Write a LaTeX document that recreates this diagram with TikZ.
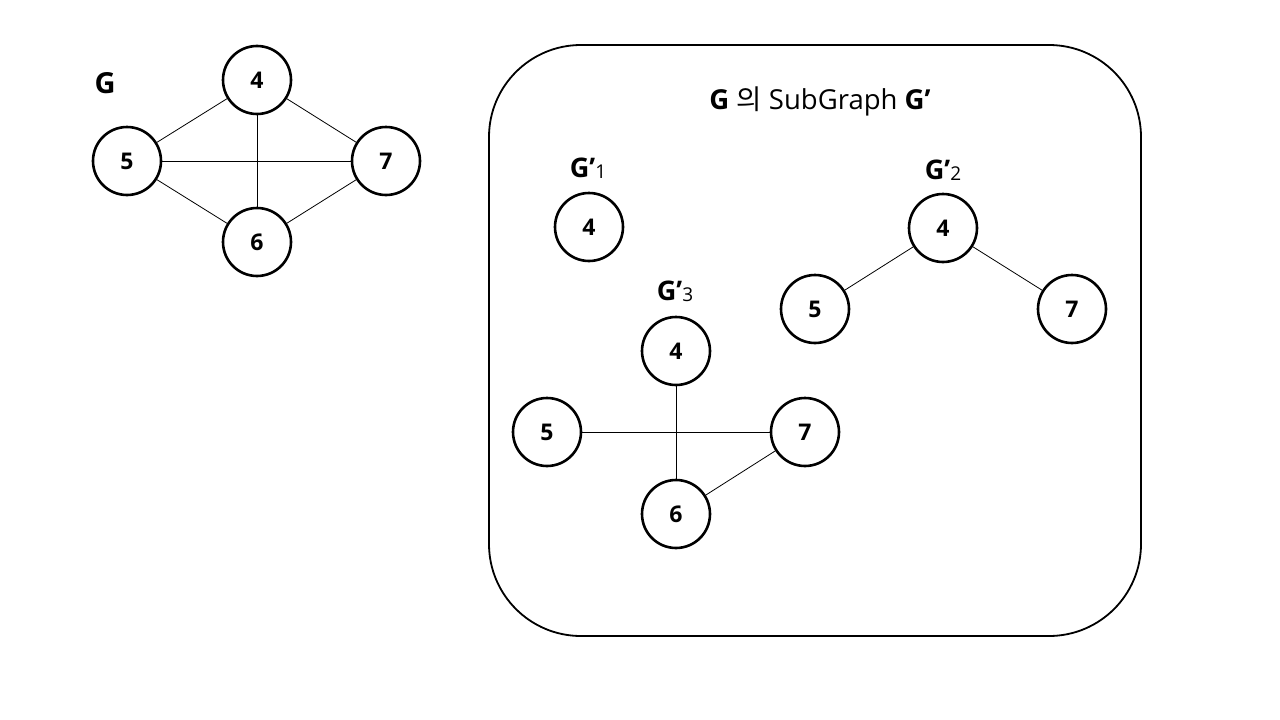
\documentclass[tikz,border=0pt]{standalone}
\usepackage{fontspec}
\setmainfont{Open Sans}
\newfontfamily\hangul{Noto Sans CJK KR}
\begin{document}
\begin{tikzpicture}[x=1pt,y=-1pt,
  vert/.style={circle,draw,line width=2.6pt,minimum size=68pt,inner sep=0pt,font=\fontsize{23}{26}\selectfont\bfseries},
  edge/.style={line width=0.8pt},
  glabel/.style={font=\fontsize{29}{32}\selectfont\bfseries},
  sublabel/.style={font=\fontsize{27}{30}\selectfont\bfseries}]
\useasboundingbox (0,0) rectangle (1280,720);
\fill[white] (0,0) rectangle (1280,720);

% Graph G
\node[glabel] (gname) at (105,83) {G};
\node[vert] (a4) at (257,80) {4};
\node[vert] (a5) at (127,161) {5};
\node[vert] (a7) at (386,161) {7};
\node[vert] (a6) at (257,242) {6};
\draw[edge] (a4) -- (a5);
\draw[edge] (a4) -- (a7);
\draw[edge] (a5) -- (a7);
\draw[edge] (a4) -- (a6);
\draw[edge] (a5) -- (a6);
\draw[edge] (a6) -- (a7);

% Frame holding the subgraphs
\draw[line width=1.8pt,rounded corners=92pt] (489,45) rectangle (1141,636);
\node (title) at (820,101) {\fontsize{27.5}{30}\selectfont\textbf{G} {\hangul 의} SubGraph \textbf{G’}};

% G'1
\node[sublabel] (n1) at (588,168) {G’\fontsize{19}{20}\selectfont\mdseries\raisebox{-1pt}{1}};
\node[vert] (b4) at (589,227) {4};

% G'2
\node[sublabel] (n2) at (943,170) {G’\fontsize{19}{20}\selectfont\mdseries\raisebox{-1pt}{2}};
\node[vert] (c4) at (943,228) {4};
\node[vert] (c5) at (815,309) {5};
\node[vert] (c7) at (1072,309) {7};
\draw[edge] (c4) -- (c5);
\draw[edge] (c4) -- (c7);

% G'3
\node[sublabel] (n3) at (675,291) {G’\fontsize{19}{20}\selectfont\mdseries\raisebox{-1pt}{3}};
\node[vert] (d4) at (676,351) {4};
\node[vert] (d5) at (547,432) {5};
\node[vert] (d7) at (805,432) {7};
\node[vert] (d6) at (676,514) {6};
\draw[edge] (d4) -- (d6);
\draw[edge] (d5) -- (d7);
\draw[edge] (d6) -- (d7);
\end{tikzpicture}
\end{document}
